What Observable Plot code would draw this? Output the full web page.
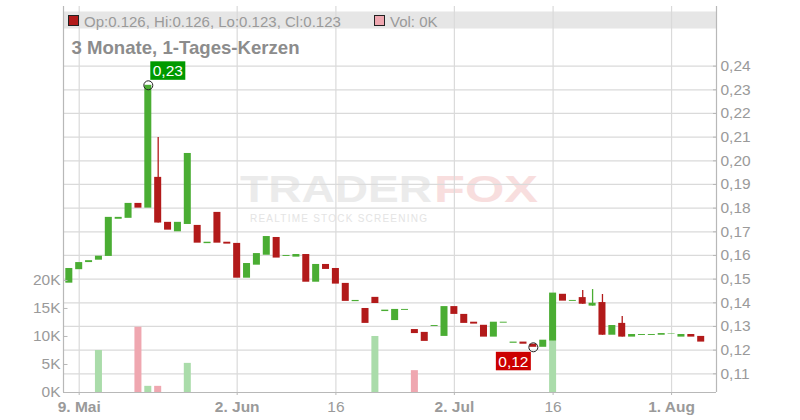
<!DOCTYPE html>
<html>
<head>
<meta charset="utf-8">
<script src="https://cdn.jsdelivr.net/npm/d3@7"></script>
<script src="https://cdn.jsdelivr.net/npm/@observablehq/plot@0.6"></script>
<style>
  html, body { margin: 0; padding: 0; background: #ffffff; }
  #wrap { position: relative; width: 800px; height: 420px; overflow: hidden; }
</style>
</head>
<body>
<div id="wrap"></div>
<script>
// ---------- data ----------
const dates = ["2025-05-08","2025-05-09","2025-05-12","2025-05-13","2025-05-14","2025-05-15","2025-05-16","2025-05-19","2025-05-20","2025-05-21","2025-05-22","2025-05-23","2025-05-26","2025-05-27","2025-05-28","2025-05-29","2025-05-30","2025-06-02","2025-06-03","2025-06-04","2025-06-05","2025-06-06","2025-06-09","2025-06-10","2025-06-11","2025-06-12","2025-06-13","2025-06-16","2025-06-17","2025-06-18","2025-06-19","2025-06-20","2025-06-23","2025-06-24","2025-06-25","2025-06-26","2025-06-27","2025-06-30","2025-07-01","2025-07-02","2025-07-03","2025-07-04","2025-07-07","2025-07-08","2025-07-09","2025-07-10","2025-07-11","2025-07-14","2025-07-15","2025-07-16","2025-07-17","2025-07-18","2025-07-21","2025-07-22","2025-07-23","2025-07-24","2025-07-25","2025-07-28","2025-07-29","2025-07-30","2025-07-31","2025-08-01","2025-08-04","2025-08-05","2025-08-06"];

const open = [0.1483,0.1540,0.1570,0.1580,0.1596,0.1753,0.1757,0.1820,0.1800,0.1930,
  0.1740,0.1700,0.1731,0.1727,0.1650,0.1782,0.1656,0.1651,0.1504,0.1559,
  0.1601,0.1676,0.1596,0.1593,0.1604,0.1487,0.1562,0.1545,0.1482,0.1405,
  0.1376,0.1423,0.1363,0.1325,0.1368,0.1287,0.1275,0.1300,0.1258,0.1384,
  0.1351,0.1318,0.1305,0.1255,0.1314,0.1229,0.1234,0.1225,0.1212,0.1238,
  0.1436,0.1406,0.1422,0.1386,0.1401,0.1263,0.1313,0.1255,0.1262,0.1262,
  0.1263,0.1268,0.1255,0.1266,0.1258];

const close = [0.1545,0.1570,0.1578,0.1597,0.1761,0.1761,0.1820,0.1800,0.2319,0.1737,
  0.1707,0.1740,0.2031,0.1652,0.1656,0.1652,0.1648,0.1504,0.1566,0.1608,
  0.1680,0.1589,0.1600,0.1604,0.1487,0.1562,0.1541,0.1479,0.1406,0.1410,
  0.1313,0.1397,0.1369,0.1372,0.1372,0.1270,0.1237,0.1304,0.1384,0.1351,
  0.1313,0.1310,0.1255,0.1318,0.1318,0.1234,0.1225,0.1212,0.1242,0.1441,
  0.1407,0.1410,0.1394,0.1398,0.1263,0.1304,0.1255,0.1266,0.1266,0.1266,
  0.1270,0.1270,0.1266,0.1255,0.1234];

// wick highs that reach above the body (by trading-day index)
const wickHigh = {8: 0.2319, 9: 0.2099, 52: 0.1452, 53: 0.1456, 54: 0.1435, 56: 0.1342};

const volume = [0,0,0,7500,0,0,0,11650,1100,1100,
  0,0,5200,0,0,0,0,0,0,0,
  0,0,0,0,0,0,0,0,0,0,
  0,10000,0,0,0,3900,0,0,0,0,
  0,0,0,0,0,0,0,0,0,9200,
  0,0,0,0,0,0,0,0,0,0,
  0,0,0,0,0];

const priceTicks = [0.11,0.12,0.13,0.14,0.15,0.16,0.17,0.18,0.19,0.20,0.21,0.22,0.23,0.24];
const volTicks = [0, 5000, 10000, 15000, 20000];
const xTickDates = ["2025-05-09","2025-06-02","2025-06-16","2025-07-02","2025-07-16","2025-08-01"];
const xTickLabels = ["9. Mai","2. Jun","16","2. Jul","16","1. Aug"];
const xTickBold = [true, true, false, true, false, true];

const title = "3 Monate, 1-Tages-Kerzen";

// ---------- colours ----------
const GREEN = "#4aad33", RED = "#b21a1a";
const VGREEN = "#aadcaa", VRED = "#efa7b0";
const GRID = "#dadada", AXIS = "#b8b8b8", TXT = "#9a9a9a";

// ---------- derived table ----------
const data = dates.map((d, i) => {
  const o = open[i], c = close[i];
  const hi = wickHigh[i] !== undefined ? wickHigh[i] : Math.max(o, c);
  const lo = Math.min(o, c);
  return {
    i, date: d, open: o, close: c, high: hi, low: lo, vol: volume[i],
    up: c >= o,
    volUp: i === 0 ? c >= o : c >= close[i - 1]
  };
});

const xDomain = [-0.59, 65.55];
const pDomain = [0.1021, 0.2652];
const vMax = 68900;
const volToP = v => pDomain[0] + v / vMax * (pDomain[1] - pDomain[0]);
const pToVol = p => (p - pDomain[0]) / (pDomain[1] - pDomain[0]) * vMax;

const tickIdx = xTickDates.map(d => dates.indexOf(d));
const labelOf = new Map(tickIdx.map((k, j) => [k, xTickLabels[j]]));
const boldIdx = tickIdx.filter((k, j) => xTickBold[j]);
const normIdx = tickIdx.filter((k, j) => !xTickBold[j]);

const HW = 0.355; // half body width in trading days

const hiPt = data.reduce((a, b) => (b.high > a.high ? b : a));
const loPt = data.reduce((a, b) => (b.low < a.low ? b : a));

const chart = Plot.plot({
  width: 800,
  height: 420,
  marginTop: 6,
  marginBottom: 28,
  marginLeft: 63,
  marginRight: 84,
  x: {domain: xDomain, label: null},
  y: {domain: pDomain, label: null},
  style: {
    fontFamily: "'Liberation Sans', Arial, sans-serif",
    fontSize: "15.5px",
    color: TXT,
    background: "transparent",
    overflow: "visible"
  },
  marks: [
    Plot.gridX(tickIdx, {stroke: GRID, strokeOpacity: 1, strokeWidth: 1.2}),
    Plot.gridY(priceTicks, {stroke: GRID, strokeOpacity: 1, strokeWidth: 1.2}),
    // volume bars
    Plot.rect(data.filter(d => d.vol > 0), {
      x1: d => d.i - HW, x2: d => d.i + HW,
      y1: () => volToP(0), y2: d => volToP(d.vol),
      fill: d => d.volUp ? VGREEN : VRED
    }),
    // wicks
    Plot.ruleX(data.filter(d => d.high > Math.max(d.open, d.close)), {
      x: "i", y1: "low", y2: "high",
      stroke: d => d.up ? GREEN : RED, strokeWidth: 1.3
    }),
    // bodies
    Plot.rect(data, {
      x1: d => d.i - HW, x2: d => d.i + HW,
      y1: "open", y2: "close",
      fill: d => d.up ? GREEN : RED
    }),
    // axis lines
    Plot.ruleX([xDomain[0], xDomain[1]], {stroke: AXIS, strokeWidth: 1.2}),
    Plot.ruleY([pDomain[0]], {stroke: AXIS, strokeWidth: 1.2}),
    // right price axis
    Plot.axisY(priceTicks, {
      anchor: "right", label: null, tickSize: -4, tickPadding: 8,
      tickFormat: d => d.toFixed(2).replace(".", ","),
      stroke: AXIS, fill: TXT
    }),
    // left volume axis
    Plot.axisY(volTicks.map(volToP), {
      anchor: "left", label: null, tickSize: -4.5, tickPadding: 7.5,
      tickFormat: p => Math.round(pToVol(p) / 1000) + "K",
      stroke: AXIS, fill: TXT
    }),
    // bottom date axis
    Plot.axisX(boldIdx, {
      anchor: "bottom", label: null, tickSize: 3, tickPadding: 5,
      tickFormat: k => labelOf.get(k), fontWeight: "bold",
      stroke: AXIS, fill: TXT
    }),
    Plot.axisX(normIdx, {
      anchor: "bottom", label: null, tickSize: 3, tickPadding: 5,
      tickFormat: k => labelOf.get(k),
      stroke: AXIS, fill: TXT
    }),
    // extreme markers
    Plot.dot([hiPt], {x: "i", y: "high", r: 4.5, stroke: "#222", fill: "none", strokeWidth: 1}),
    Plot.dot([loPt], {x: "i", y: "low", r: 4.5, stroke: "#222", fill: "none", strokeWidth: 1})
  ]
});

document.getElementById("wrap").appendChild(chart);

const svg = d3.select(chart);
const sx = chart.scale("x"), sy = chart.scale("y");

// background chrome: legend band + watermark (behind marks)
const back = svg.insert("g", "g").attr("text-anchor", "start")
  .attr("font-family", "'Liberation Sans', Arial, sans-serif");
back.append("rect").attr("x", 63).attr("y", 11.5).attr("width", 653).attr("height", 17)
  .attr("fill", "#e6e6e6");
back.append("text").attr("x", 240).attr("y", 202).attr("font-size", 36).attr("font-weight", "bold")
  .attr("textLength", 192).attr("lengthAdjust", "spacingAndGlyphs")
  .attr("fill", "#ebebeb").text("TRADER");
back.append("text").attr("x", 434).attr("y", 202).attr("font-size", 36).attr("font-weight", "bold")
  .attr("textLength", 104).attr("lengthAdjust", "spacingAndGlyphs")
  .attr("fill", "#f8dede").text("FOX");
back.append("text").attr("x", 250).attr("y", 222).attr("font-size", 10)
  .attr("textLength", 177).attr("lengthAdjust", "spacing")
  .attr("fill", "#e4e4e4").text("REALTIME STOCK SCREENING");

// foreground: legend + title
const last = data[data.length - 1];
const front = svg.append("g").attr("text-anchor", "start")
  .attr("font-family", "'Liberation Sans', Arial, sans-serif");
front.append("rect").attr("x", 68.5).attr("y", 15.5).attr("width", 10).attr("height", 10)
  .attr("fill", last.up ? GREEN : RED).attr("stroke", "#222").attr("stroke-width", 1);
front.append("text").attr("x", 84).attr("y", 26.5).attr("font-size", 15).attr("fill", TXT)
  .text(`Op:${last.open.toFixed(3)}, Hi:${last.high.toFixed(3)}, Lo:${last.low.toFixed(3)}, Cl:${last.close.toFixed(3)}`);
front.append("rect").attr("x", 374.5).attr("y", 15.5).attr("width", 10).attr("height", 10)
  .attr("fill", last.volUp ? VGREEN : VRED).attr("stroke", "#222").attr("stroke-width", 1);
front.append("text").attr("x", 390).attr("y", 26.5).attr("font-size", 15).attr("fill", TXT)
  .text(`Vol: ${Math.round(last.vol / 1000)}K`);
front.append("text").attr("x", 71.5).attr("y", 54.3).attr("font-size", 18.6).attr("font-weight", "bold")
  .attr("fill", "#8c8c8c").text(title);

// value badges at extremes
function badge(pt, val, color, above) {
  const px = sx.apply(pt.i), py = sy.apply(val);
  const w = 35, h = 18.5;
  const bx = above ? px + 2.5 : px - 2 - w;
  const by = above ? py - 5 - h : py + 5;
  front.append("rect").attr("x", bx).attr("y", by).attr("width", w).attr("height", h).attr("fill", color);
  front.append("text").attr("x", bx + w / 2).attr("y", by + h / 2).attr("dy", "0.36em")
    .attr("text-anchor", "middle").attr("font-size", 15.5).attr("fill", "#fff")
    .text(val.toFixed(2).replace(".", ","));
}
badge(hiPt, hiPt.high, "#009a00", true);
badge(loPt, loPt.low, "#cc0000", false);
</script>
</body>
</html>
